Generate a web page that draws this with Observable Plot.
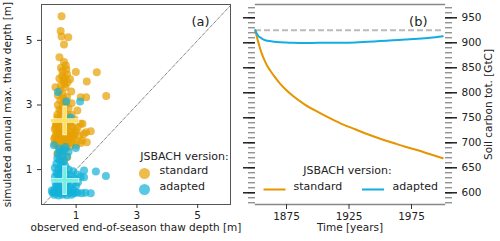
<!DOCTYPE html>
<html>
<head>
<meta charset="utf-8">
<script src="https://cdn.jsdelivr.net/npm/d3@7"></script>
<script src="https://cdn.jsdelivr.net/npm/@observablehq/plot@0.6"></script>
<style>
  html, body { margin: 0; padding: 0; background: white; }
  #wrap { position: relative; width: 500px; height: 241px; overflow: hidden; }
  #wrap svg { position: absolute; top: 0; }
</style>
</head>
<body>
<div id="wrap"></div>
<script>
// ---------- Panel (a) data ----------
const versions = ["standard", "adapted"];
const versionColors = ["#E69F00", "#12B0D9"];
const crossColors = ["#FFE050", "#66F2DC"];

const standardPts = [
  [0.52,5.75],[0.49,5.29],[0.52,5.12],[0.74,5.10],[0.60,4.87],[0.45,4.48],[0.60,4.33],[0.66,4.22],
  [0.50,4.15],[0.99,4.02],[1.68,4.01],[0.55,4.05],[0.70,3.95],[0.62,3.85],[0.45,3.82],[0.80,3.80],
  [0.58,3.75],[0.72,3.70],[1.35,3.73],[0.32,3.55],[0.50,3.60],[0.65,3.55],[0.84,3.42],[0.55,3.35],
  [0.40,3.30],[0.70,3.25],[1.15,3.24],[1.33,3.24],[1.99,3.28],[0.48,3.15],[0.62,3.10],[0.85,3.05],
  [0.40,3.00],[0.55,2.95],[0.75,2.90],[1.04,2.83],[0.45,2.85],[0.62,2.75],[0.85,2.70],[0.38,2.70],
  [0.50,2.62],[0.70,2.60],[0.95,2.55],[0.42,2.50],[0.60,2.45],[0.80,2.45],[1.15,2.42],[0.35,2.38],
  [0.52,2.35],[0.70,2.32],[0.90,2.30],[0.30,2.25],[0.45,2.22],[0.62,2.20],[0.78,2.18],[1.00,2.20],
  [1.32,2.16],[0.35,2.12],[0.50,2.10],[0.68,2.08],[0.85,2.05],[1.10,2.05],[0.30,2.00],[0.42,1.98],
  [0.58,1.95],[0.75,1.95],[0.95,1.92],[1.20,1.90],[0.35,1.88],[0.52,1.85],[0.68,1.85],[0.85,1.82],
  [1.15,1.82],[1.35,1.85],[0.40,1.75],[0.60,1.75],[0.80,1.72],[1.00,1.75],[0.45,1.62],[0.65,1.65],
  [0.38,1.49],[0.55,1.50],[0.71,1.39],[0.48,1.35],[0.60,1.30],[0.32,2.30],[0.40,2.15],[0.55,2.25],
  [0.75,2.05],[0.90,1.98],[0.65,1.90],[0.28,1.95],[0.48,2.05],[0.82,2.35],[0.60,2.55],[0.72,2.70],
  [0.50,2.80],[0.65,3.00],[0.58,3.20],[0.46,3.45],[0.62,3.65],[0.54,3.90],[0.68,4.10],[1.21,2.42],
  [1.48,2.19],[1.25,2.10],[0.38,2.60],[0.88,2.15],[0.30,1.80],[0.45,1.55],[1.05,2.30],[0.95,2.10],
  [0.36,2.05],[0.56,2.02],[0.72,1.80],[0.42,1.90],[0.62,2.38],[0.78,2.55],[0.48,2.48],[0.33,2.45]
];

const adaptedPts = [
  [0.40,3.40],[0.68,3.11],[1.13,3.11],[0.82,2.61],[0.27,1.75],[0.99,1.67],[0.45,1.65],[0.60,1.62],
  [0.75,1.55],[0.40,1.50],[0.55,1.45],[0.70,1.40],[0.45,1.30],[0.60,1.25],[0.35,1.18],[0.50,1.12],
  [0.65,1.10],[0.30,1.05],[0.42,1.00],[0.58,0.98],[0.75,1.00],[0.90,0.95],[1.26,0.97],[1.65,0.94],
  [1.98,0.80],[1.26,0.76],[0.35,0.90],[0.50,0.88],[0.68,0.85],[0.85,0.82],[1.05,0.85],[0.30,0.78],
  [0.45,0.75],[0.60,0.72],[0.78,0.70],[0.95,0.72],[1.15,0.78],[1.06,0.61],[0.40,0.62],[0.55,0.60],
  [0.70,0.58],[0.88,0.55],[0.35,0.50],[0.50,0.48],[0.65,0.45],[0.80,0.45],[1.00,0.50],[0.30,0.40],
  [0.45,0.38],[0.60,0.35],[0.75,0.35],[0.90,0.38],[0.25,0.30],[0.35,0.28],[0.48,0.27],[0.62,0.27],
  [0.78,0.28],[0.92,0.27],[1.05,0.28],[1.18,0.27],[1.30,0.28],[1.48,0.27],[0.28,0.22],[0.42,0.20],
  [0.55,0.22],[0.70,0.21],[0.85,0.22],[0.20,0.35],[0.32,0.60],[0.40,0.85],[0.55,1.05],[0.48,1.55],
  [0.65,1.70],[0.38,1.35],[0.52,1.25],[0.62,0.92],[0.72,0.65],[0.38,0.45],[0.98,0.30],[0.22,0.28]
];

const meanX = [0.62, 0.62];
const meanY = [2.52, 0.67];

const diagonal = [-0.3, 6.4];

const xTicksA = [1, 3, 5];
const yTicksA = [1, 3, 5];
const xLabelA = "observed end-of-season thaw depth [m]";
const yLabelA = "simulated annual max. thaw depth [m]";
const legendTitle = "JSBACH version:";

// ---------- Panel (b) data ----------
const years = [1850, 1852, 1855, 1858, 1860, 1865, 1870, 1875, 1880, 1890, 1900, 1910, 1920, 1930, 1940, 1950, 1960, 1970, 1980, 1990, 2000];
const carbonStandard = [925, 905, 880, 862, 852, 834, 818, 805, 794, 776, 762, 749, 737, 727, 717, 708, 700, 692, 685, 677, 669];
const carbonAdapted  = [925, 915, 909, 905, 904, 902, 901, 900.5, 900, 899.5, 900, 900, 900, 900.5, 902, 903.5, 905, 906.5, 908, 910, 913];
const initialCarbon = [925];

const xTicksB = [1875, 1925, 1975];
const yTicksB = [600, 650, 700, 750, 800, 850, 900, 950];
const yMinorB = d3.range(580, 980, 10);
const xLabelB = "Time [years]";
const yLabelB = "Soil carbon tot. [GtC]";

// ---------- build tables ----------
const scatter = [
  ...standardPts.map(([x, y]) => ({x, y, v: versions[0]})),
  ...adaptedPts.map(([x, y]) => ({x, y, v: versions[1]}))
];
const means = versions.map((v, i) => ({v, x: meanX[i], y: meanY[i], c: crossColors[i]}));
const diag = diagonal.map(d => ({x: d, y: d}));
const series = [
  ...years.map((t, i) => ({t, c: carbonStandard[i], v: versions[0]})),
  ...years.map((t, i) => ({t, c: carbonAdapted[i], v: versions[1]}))
];

const font = "'DejaVu Sans', 'Liberation Sans', sans-serif";
const hline = {draw(ctx, size) { const h = Math.sqrt(size / Math.PI); ctx.moveTo(-h, 0); ctx.lineTo(h, 0); }};
const plain = d => String(d);

// ---------- Panel (a) ----------
const plotA = Plot.plot({
  width: 250, height: 241,
  marginLeft: 41, marginRight: 20, marginTop: 4, marginBottom: 37,
  style: {fontFamily: font, fontSize: "10.5px", color: "#222", background: "transparent", overflow: "visible"},
  x: {domain: [-0.14, 6.08]},
  y: {domain: [-0.08, 6.11]},
  color: {domain: versions, range: versionColors},
  marks: [
    Plot.line(diag, {x: "x", y: "y", stroke: "#888", strokeWidth: 1, strokeDasharray: "3.5,2", clip: true}),
    Plot.dot(scatter.filter(d => d.v === versions[0]), {x: "x", y: "y", r: 4, fill: "v", fillOpacity: 0.7}),
    Plot.dot(scatter.filter(d => d.v === versions[1]), {x: "x", y: "y", r: 4, fill: "v", fillOpacity: 0.7}),
    Plot.dot(means, {x: "x", y: "y", symbol: "plus", r: 9.5, stroke: "white", strokeWidth: 4.6, strokeOpacity: 0.8}),
    Plot.dot(means, {x: "x", y: "y", symbol: "plus", r: 8.8, stroke: d => d.c, strokeWidth: 2.8, strokeOpacity: 0.9}),
    Plot.frame({stroke: "#555"}),
    Plot.axisX({ticks: xTicksA, tickFormat: plain, tickSize: 4, tickPadding: 3, label: null, stroke: "#333"}),
    Plot.axisY({ticks: yTicksA, tickFormat: plain, tickSize: 4, tickPadding: 5, label: null, stroke: "#333"}),
    Plot.text([xLabelA], {frameAnchor: "bottom", dy: 26, text: d => d, fontSize: 10.5, fill: "#222"}),
    Plot.text([yLabelA], {frameAnchor: "left", dx: -34, rotate: -90, textAnchor: "middle", text: d => d, fontSize: 10.5, fill: "#222"}),
    Plot.text(["(a)"], {frameAnchor: "top-right", dx: -21, dy: 12, textAnchor: "end", text: d => d, fontSize: 13, fill: "#222"}),
    Plot.text([legendTitle], {frameAnchor: "bottom-right", dx: -46, dy: -45, textAnchor: "middle", text: d => d, fontSize: 11, fill: "#222"}),
    Plot.dot([versions[0]], {frameAnchor: "bottom-right", dx: -86, dy: -31, r: 5.5, fill: d => d, fillOpacity: 0.7}),
    Plot.text([versions[0]], {frameAnchor: "bottom-right", dx: -71, dy: -31, textAnchor: "start", text: d => d, fontSize: 11, fill: "#222"}),
    Plot.dot([versions[1]], {frameAnchor: "bottom-right", dx: -86, dy: -15, r: 5.5, fill: d => d, fillOpacity: 0.7}),
    Plot.text([versions[1]], {frameAnchor: "bottom-right", dx: -71, dy: -15, textAnchor: "start", text: d => d, fontSize: 11, fill: "#222"})
  ]
});
plotA.style.left = "0px";

// ---------- Panel (b) ----------
const plotB = Plot.plot({
  width: 250, height: 241,
  marginLeft: 5, marginRight: 56, marginTop: 4, marginBottom: 37,
  style: {fontFamily: font, fontSize: "10.5px", color: "#222", background: "transparent", overflow: "visible"},
  x: {domain: [1850.2, 2001.4]},
  y: {domain: [576.6, 976.6]},
  color: {domain: versions, range: ["#E69400", "#14ADDF"]},
  marks: [
    Plot.ruleY(initialCarbon, {stroke: "#bbb", strokeWidth: 2, strokeDasharray: "6,3"}),
    Plot.line(series, {x: "t", y: "c", stroke: "v", z: "v", strokeWidth: 2, curve: "monotone-x"}),
    Plot.frame({anchor: "top", stroke: "#888", strokeWidth: 1.5}),
    Plot.frame({anchor: "bottom", stroke: "#888", strokeWidth: 1.5}),
    Plot.axisX({ticks: xTicksB, tickFormat: plain, tickSize: 5, tickPadding: 3, label: null, stroke: "#333"}),
    Plot.axisY({anchor: "right", ticks: yMinorB, tickSize: 7, fill: "none", label: null, stroke: "#666"}),
    Plot.axisY({anchor: "left", ticks: yMinorB, tickSize: 7, fill: "none", label: null, stroke: "#666"}),
    Plot.axisY({anchor: "right", ticks: yTicksB, tickFormat: plain, tickSize: 12, tickPadding: 5, label: null, stroke: "#111", strokeWidth: 1.4}),
    Plot.axisY({anchor: "left", ticks: yTicksB, tickSize: 12, fill: "none", label: null, stroke: "#111", strokeWidth: 1.4}),
    Plot.text([xLabelB], {frameAnchor: "bottom", dy: 26, text: d => d, fontSize: 10.5, fill: "#222"}),
    Plot.text([yLabelB], {frameAnchor: "right", dx: 44, rotate: -90, textAnchor: "middle", text: d => d, fontSize: 10.5, fill: "#222"}),
    Plot.text(["(b)"], {frameAnchor: "top-right", dx: -17, dy: 12, textAnchor: "end", text: d => d, fontSize: 13, fill: "#222"}),
    Plot.text([legendTitle], {frameAnchor: "bottom-left", dx: 92, dy: -31, textAnchor: "middle", text: d => d, fontSize: 11, fill: "#222"}),
    Plot.dot([versions[0]], {frameAnchor: "bottom-left", dx: 19, dy: -15, r: 11, symbol: hline, stroke: d => d, strokeWidth: 2}),
    Plot.text([versions[0]], {frameAnchor: "bottom-left", dx: 38, dy: -15, textAnchor: "start", text: d => d, fontSize: 11, fill: "#222"}),
    Plot.dot([versions[1]], {frameAnchor: "bottom-left", dx: 117.5, dy: -15, r: 11, symbol: hline, stroke: d => d, strokeWidth: 2}),
    Plot.text([versions[1]], {frameAnchor: "bottom-left", dx: 137, dy: -15, textAnchor: "start", text: d => d, fontSize: 11, fill: "#222"})
  ]
});
plotB.style.left = "250px";

const wrap = document.getElementById("wrap");
wrap.appendChild(plotA);
wrap.appendChild(plotB);
</script>
</body>
</html>
